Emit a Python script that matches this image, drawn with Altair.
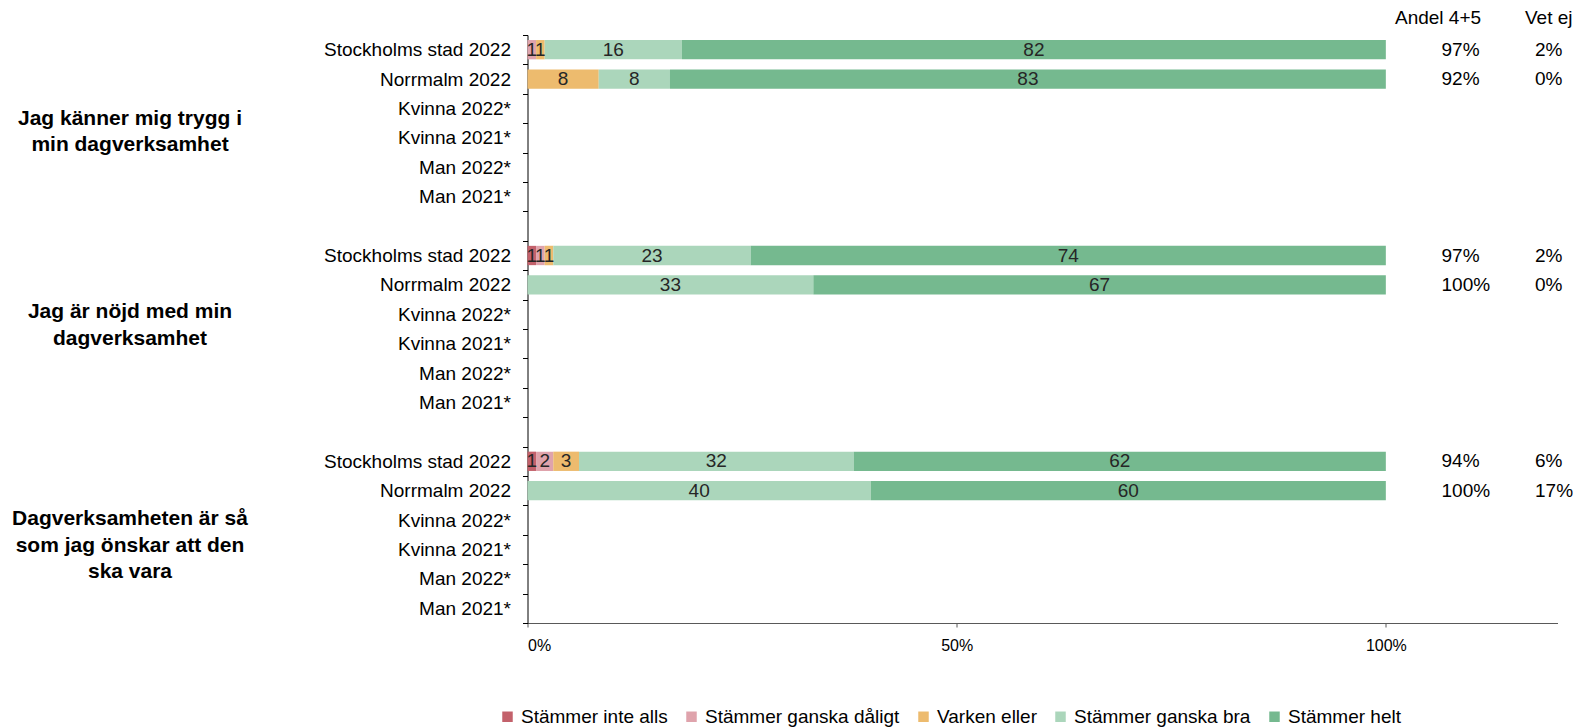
import altair as alt
import pandas as pd

# ---------------- data ----------------
questions = [
    "Jag känner mig trygg i\nmin dagverksamhet",
    "Jag är nöjd med min\ndagverksamhet",
    "Dagverksamheten är så\nsom jag önskar att den\nska vara",
]
row_labels = ["Stockholms stad 2022", "Norrmalm 2022", "Kvinna 2022*",
              "Kvinna 2021*", "Man 2022*", "Man 2021*"]
categories = ["Stämmer inte alls", "Stämmer ganska dåligt", "Varken eller",
              "Stämmer ganska bra", "Stämmer helt"]
colors = ["#C3616B", "#DFA3AC", "#EDBB6E", "#ABD6BB", "#75B98F"]

stockholm_values = [[0, 1, 1, 16, 82], [1, 1, 1, 23, 74], [1, 2, 3, 32, 62]]
norrmalm_values = [[0, 0, 8.3, 8.3, 83.4], [0, 0, 0, 33.3, 66.7], [0, 0, 0, 40, 60]]
stockholm_andel = [97, 97, 94]
norrmalm_andel = [92, 100, 100]
stockholm_vetej = [2, 2, 6]
norrmalm_vetej = [0, 0, 17]
headers = ["Andel 4+5", "Vet ej"]
x_ticks = [0, 50, 100]

FONT = "Liberation Sans"

# ---------------- tables ----------------
keys = []
for qi in range(len(questions)):
    for r in row_labels:
        keys.append(f"{qi}|{r}")
    if qi < len(questions) - 1:
        keys.append(f"{qi}|")

seg_rows = []
side_rows = []
for qi in range(len(questions)):
    for rname, vals, andel, vet in [
        (row_labels[0], stockholm_values[qi], stockholm_andel[qi], stockholm_vetej[qi]),
        (row_labels[1], norrmalm_values[qi], norrmalm_andel[qi], norrmalm_vetej[qi]),
    ]:
        key = f"{qi}|{rname}"
        cum = 0.0
        for ci, v in enumerate(vals):
            if v > 0:
                seg_rows.append({"row": key, "cat": categories[ci], "ci": ci,
                                 "start": cum, "end": cum + v, "mid": cum + v / 2,
                                 "label": f"{v:.0f}"})
            cum += v
        side_rows.append({"row": key, "andel": f"{andel}%", "vet": f"{vet}%"})

seg = pd.DataFrame(seg_rows)
side = pd.DataFrame(side_rows)

# ---------------- scales / axes ----------------
yscale = alt.Scale(domain=keys, paddingInner=0, paddingOuter=0)
yaxis = alt.Axis(title=None, labelExpr="split(datum.value, '|')[1]", tickBand="extent",
                 labelFont=FONT, labelFontSize=19, labelColor="black", labelLimit=400,
                 tickColor="black", domainColor="black", tickSize=5, labelPadding=12)
xscale = alt.Scale(domain=[0, 120], nice=False, zero=True)
xaxis = alt.Axis(title=None, values=x_ticks, labelExpr="datum.value + '%'", grid=False,
                 labelFont=FONT, labelFontSize=16, labelColor="black",
                 domainColor="#595959", tickColor="#595959", tickSize=4, labelPadding=10)


def Y(**kw):
    return alt.Y("row:N", sort=keys, scale=yscale, axis=yaxis, **kw)


bars = alt.Chart(seg).mark_bar(size=19.3).encode(
    y=Y(),
    x=alt.X("start:Q", scale=xscale, axis=xaxis),
    x2="end:Q",
    color=alt.Color("cat:N", scale=alt.Scale(domain=categories, range=colors),
                    legend=alt.Legend(title=None, orient="none", legendX=-29.5, legendY=672,
                                      direction="horizontal", columns=5, symbolType="square",
                                      symbolSize=110, symbolStrokeWidth=0, labelFontSize=19,
                                      labelFont=FONT, labelColor="black", labelLimit=400,
                                      columnPadding=14, labelOffset=4)),
    order=alt.Order("ci:Q"),
)

labels = alt.Chart(seg).mark_text(font=FONT, fontSize=19, color="#262626",
                                  align="center", baseline="middle").encode(
    y=Y(),
    x=alt.X("mid:Q", scale=xscale, axis=xaxis),
    text="label:N",
)

andel_txt = alt.Chart(side).mark_text(font=FONT, fontSize=19, color="black",
                                      align="left", baseline="middle").encode(
    y=Y(), x=alt.value(914), text="andel:N")
vet_txt = alt.Chart(side).mark_text(font=FONT, fontSize=19, color="black",
                                    align="left", baseline="middle").encode(
    y=Y(), x=alt.value(1007.5), text="vet:N")

h1 = alt.Chart(pd.DataFrame({"t": [headers[0]]})).mark_text(
    font=FONT, fontSize=19, color="black", align="left", baseline="middle").encode(
    x=alt.value(867.5), y=alt.value(-17), text="t:N")
h2 = alt.Chart(pd.DataFrame({"t": [headers[1]]})).mark_text(
    font=FONT, fontSize=19, color="black", align="left", baseline="middle").encode(
    x=alt.value(997.5), y=alt.value(-17), text="t:N")

# group labels: anchored on each group's "Kvinna 2022*" row
group_dy = [-1, -13, -12]
group_layers = []
for qi, q in enumerate(questions):
    gdf = pd.DataFrame({"row": [f"{qi}|{row_labels[2]}"], "q": [q]})
    group_layers.append(
        alt.Chart(gdf).mark_text(font=FONT, fontSize=21, fontWeight="bold", color="black",
                                 align="center", baseline="top", lineBreak="\n",
                                 lineHeight=26.5, dy=group_dy[qi]).encode(
            y=Y(), x=alt.value(-397.5), text="q:N")
    )

chart = alt.layer(bars, labels, andel_txt, vet_txt, h1, h2, *group_layers).properties(
    width=1030, height=588,
    autosize=alt.AutoSizeParams(type="none"),
    padding={"left": 519.5, "top": 27, "right": 15.5, "bottom": 104},
).configure_view(strokeWidth=0)

chart.save("out.html", embed_options={"renderer": "svg", "actions": False})
